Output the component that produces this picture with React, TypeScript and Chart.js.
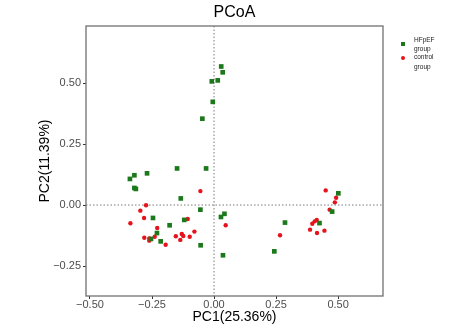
import React, { useEffect, useRef } from 'react';
import { Chart, registerables } from 'chart.js';

Chart.register(...registerables);

const chartTitle = 'PCoA';
const xAxisTitle = 'PC1(25.36%)';
const yAxisTitle = 'PC2(11.39%)';
const seriesNames = ['HFpEF\ngroup', 'control\ngroup'];

const xTickValues = [-0.5, -0.25, 0, 0.25, 0.5];
const yTickValues = [-0.25, 0, 0.25, 0.5];
const xTickLabels = ['\u22120.50', '\u22120.25', '0.00', '0.25', '0.50'];
const yTickLabels = ['\u22120.25', '0.00', '0.25', '0.50'];

const hfpefX = [0.029, 0.035, -0.009, 0.015, -0.005, -0.047, -0.339, -0.321, -0.27, -0.149, -0.032, -0.321, -0.315, -0.134, -0.055, -0.246, -0.12, -0.179, -0.23, -0.254, -0.215, -0.054, 0.028, 0.042, 0.036, 0.286, 0.243, 0.501, 0.476, 0.425];
const hfpefY = [0.568, 0.544, 0.507, 0.511, 0.423, 0.354, 0.107, 0.122, 0.13, 0.15, 0.15, 0.07, 0.066, 0.027, -0.019, -0.053, -0.061, -0.083, -0.115, -0.139, -0.149, -0.165, -0.049, -0.036, -0.206, -0.072, -0.19, 0.048, -0.027, -0.074];

const controlX = [-0.055, -0.274, -0.297, -0.282, -0.337, -0.229, -0.281, -0.261, -0.261, -0.239, -0.195, -0.154, -0.136, -0.13, -0.124, -0.098, -0.079, -0.106, 0.047, 0.266, 0.45, 0.492, 0.487, 0.466, 0.414, 0.406, 0.396, 0.387, 0.415, 0.445];
const controlY = [0.057, -0.001, -0.023, -0.053, -0.075, -0.094, -0.134, -0.137, -0.146, -0.13, -0.163, -0.128, -0.143, -0.119, -0.127, -0.13, -0.109, -0.057, -0.083, -0.124, 0.06, 0.03, 0.011, -0.019, -0.061, -0.067, -0.077, -0.101, -0.115, -0.105];

const GREEN = '#1b781b';
const RED = '#e5131b';
const FONT = '"Liberation Sans", Arial, sans-serif';

const decorPlugin = {
  id: 'decor',
  beforeDatasetsDraw(chart: any) {
    const { ctx, chartArea, scales } = chart;
    const x0 = scales.x.getPixelForValue(0);
    const y0 = scales.y.getPixelForValue(0);
    ctx.save();
    ctx.strokeStyle = '#7a7a7a';
    ctx.lineWidth = 1;
    ctx.setLineDash([1.5, 2]);
    ctx.beginPath();
    ctx.moveTo(x0, chartArea.top);
    ctx.lineTo(x0, chartArea.bottom);
    ctx.moveTo(chartArea.left, y0);
    ctx.lineTo(chartArea.right, y0);
    ctx.stroke();
    ctx.restore();
  },
  afterDraw(chart: any) {
    const { ctx, chartArea } = chart;
    ctx.save();
    ctx.strokeStyle = '#707070';
    ctx.lineWidth = 1.3;
    ctx.strokeRect(chartArea.left, chartArea.top, chartArea.right - chartArea.left, chartArea.bottom - chartArea.top);

    // title
    ctx.fillStyle = '#000';
    ctx.font = `16px ${FONT}`;
    ctx.textAlign = 'center';
    ctx.textBaseline = 'middle';
    ctx.fillText(chartTitle, (chartArea.left + chartArea.right) / 2, 13);

    // legend
    const lx = chartArea.right + 20;
    ctx.fillStyle = GREEN;
    ctx.fillRect(lx - 2, 42, 4, 4);
    ctx.fillStyle = RED;
    ctx.beginPath();
    ctx.arc(lx, 58, 2, 0, Math.PI * 2);
    ctx.fill();
    ctx.fillStyle = '#222';
    ctx.font = `6.5px ${FONT}`;
    ctx.textAlign = 'left';
    const tx = lx + 11;
    const l0 = seriesNames[0].split('\n');
    const l1 = seriesNames[1].split('\n');
    ctx.fillText(l0[0], tx, 40);
    ctx.fillText(l0[1], tx, 49.5);
    ctx.fillText(l1[0], tx, 57.5);
    ctx.fillText(l1[1], tx, 67);
    ctx.restore();
  },
};

export default function App() {
  const canvasRef = useRef<HTMLCanvasElement>(null);

  useEffect(() => {
    const canvas = canvasRef.current;
    if (!canvas) return;
    const chart = new Chart(canvas, {
      type: 'scatter',
      data: {
        datasets: [
          {
            label: 'HFpEF group',
            data: hfpefX.map((x, i) => ({ x, y: hfpefY[i] })),
            pointStyle: 'rect',
            pointRadius: 3.3,
            backgroundColor: GREEN,
            borderColor: GREEN,
            borderWidth: 0,
          },
          {
            label: 'control group',
            data: controlX.map((x, i) => ({ x, y: controlY[i] })),
            pointStyle: 'circle',
            pointRadius: 2.2,
            backgroundColor: RED,
            borderColor: RED,
            borderWidth: 0,
          },
        ],
      },
      options: {
        responsive: false,
        animation: false,
        layout: { padding: { top: 26, right: 91, left: 0, bottom: 0 } },
        plugins: {
          legend: { display: false },
          title: { display: false },
          tooltip: { enabled: false },
        },
        scales: {
          x: {
            type: 'linear',
            min: -0.516,
            max: 0.681,
            afterBuildTicks: (scale: any) => {
              scale.ticks = xTickValues.map((v) => ({ value: v }));
            },
            afterFit: (scale: any) => {
              scale.height = 39;
            },
            grid: { display: true, drawOnChartArea: false, drawTicks: true, tickLength: 3, color: '#333' },
            border: { display: false },
            ticks: {
              padding: 0,
              color: '#4d4d4d',
              font: { family: FONT, size: 11, lineHeight: 1 },
              maxRotation: 0,
              autoSkip: false,
              callback: (v: any) => {
                const i = xTickValues.indexOf(Number(v));
                return i >= 0 ? xTickLabels[i] : '';
              },
            },
            title: {
              display: true,
              text: xAxisTitle,
              color: '#000',
              font: { family: FONT, size: 14 },
              padding: { top: 0, bottom: 9 },
            },
          },
          y: {
            type: 'linear',
            min: -0.373,
            max: 0.734,
            afterBuildTicks: (scale: any) => {
              scale.ticks = yTickValues.map((v) => ({ value: v }));
            },
            afterFit: (scale: any) => {
              scale.width = 86;
            },
            grid: { display: true, drawOnChartArea: false, drawTicks: true, tickLength: 3, color: '#333' },
            border: { display: false },
            ticks: {
              padding: 2,
              color: '#4d4d4d',
              font: { family: FONT, size: 11 },
              autoSkip: false,
              callback: (v: any) => {
                const i = yTickValues.indexOf(Number(v));
                return i >= 0 ? yTickLabels[i] : '';
              },
            },
            title: {
              display: true,
              text: yAxisTitle,
              color: '#000',
              font: { family: FONT, size: 14 },
              padding: { top: 37, bottom: 0 },
            },
          },
        },
      },
      plugins: [decorPlugin],
    });
    return () => chart.destroy();
  }, []);

  return (
    <div style={{ position: 'absolute', left: 0, top: 0, width: 474, height: 335, background: '#fff' }}>
      <canvas ref={canvasRef} width={474} height={335} style={{ display: 'block' }} />
    </div>
  );
}
